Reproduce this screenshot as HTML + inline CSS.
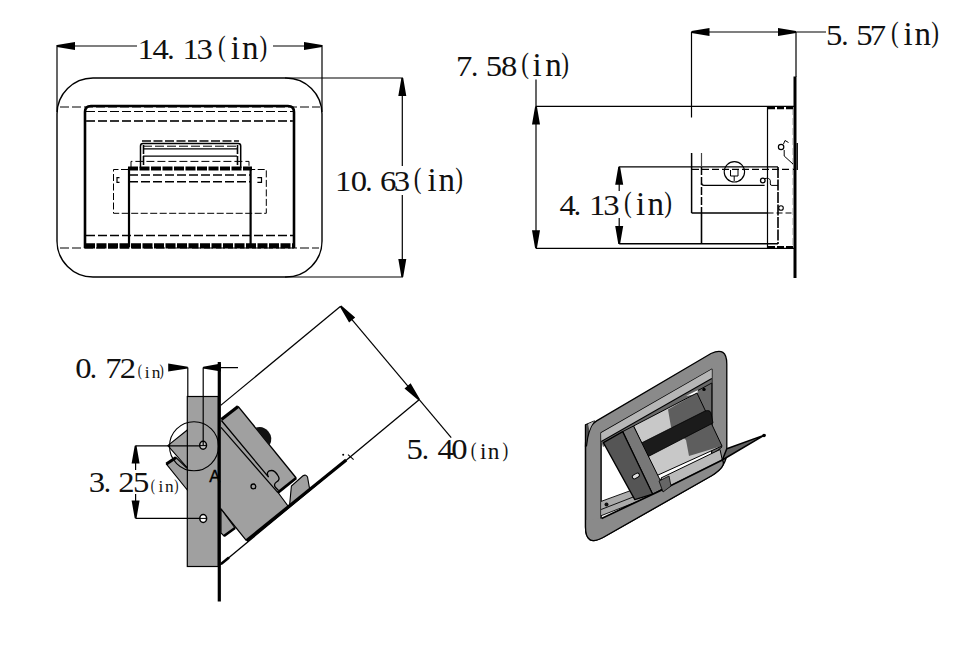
<!DOCTYPE html>
<html><head><meta charset="utf-8">
<style>
html,body{margin:0;padding:0;background:#fff;width:965px;height:669px;overflow:hidden}
svg{display:block;position:absolute;left:0;top:0}
text{font-family:"Liberation Serif",serif;fill:#111}
</style></head>
<body>
<svg width="965" height="669" viewBox="0 0 965 669">
<rect width="965" height="669" fill="#fff"/>

<!-- ============ TOP LEFT VIEW ============ -->
<g id="tl" fill="none" stroke="#000">
  <!-- dimension 14.13 -->
  <line x1="57" y1="46" x2="137" y2="46" stroke-width="1.2"/>
  <line x1="273" y1="46" x2="322" y2="46" stroke-width="1.2"/>
  <line x1="57" y1="45" x2="57" y2="112" stroke-width="1.2"/>
  <line x1="322" y1="45" x2="322" y2="112" stroke-width="1.2"/>
  <path d="M57.0,45.1 L75.0,42.0 L75.0,50.0 L57.0,46.9 Z M322.0,45.1 L304.0,42.0 L304.0,50.0 L322.0,46.9 Z" fill="#000" stroke="none"/>
  <!-- dimension 10.63 -->
  <line x1="285" y1="78" x2="403" y2="78" stroke-width="1.2"/>
  <line x1="285" y1="277" x2="403" y2="277" stroke-width="1.2"/>
  <line x1="402.3" y1="78" x2="402.3" y2="166" stroke-width="1.2"/>
  <line x1="402.3" y1="195" x2="402.3" y2="277" stroke-width="1.2"/>
  <path d="M401.4,78.0 L398.3,96.0 L406.3,96.0 L403.2,78.0 Z M401.4,277.0 L398.3,259.0 L406.3,259.0 L403.2,277.0 Z" fill="#000" stroke="none"/>
  <!-- outer rounded rect -->
  <rect x="57" y="78" width="265" height="199" rx="36" ry="36" stroke-width="1.4"/>
  <!-- dashed horizontal lines through frame -->
  <line x1="60" y1="107" x2="320" y2="107" stroke-width="1" stroke-dasharray="9,3"/>
  <line x1="60" y1="248" x2="319" y2="248" stroke-width="1" stroke-dasharray="9,3"/>
  <!-- inner rect -->
  <path d="M85,248 L85,112 Q85,106 91,106 L288,106 Q294,106 294,112 L294,248" stroke-width="2.6"/>
  <line x1="85" y1="245.9" x2="294" y2="245.9" stroke-width="5.4" stroke-dasharray="10,1.5"/>
  <line x1="86" y1="111.5" x2="293" y2="111.5" stroke-width="1.2" stroke-dasharray="9,3"/>
  <line x1="86" y1="121" x2="293" y2="121" stroke-width="1.8" stroke-dasharray="9,3" stroke="#333"/>
  <line x1="86" y1="235.5" x2="293" y2="235.5" stroke-width="1.4" stroke-dasharray="9,3"/>
  <!-- handle -->
  <line x1="142" y1="141" x2="239" y2="141" stroke-width="2" stroke-dasharray="9,2.5" stroke="#444"/>
  <path d="M140.5,168 L140.5,146 Q140.5,143.6 143,143.6 L238.2,143.6 Q240.7,143.6 240.7,146 L240.7,168" stroke-width="1.5"/>
  <line x1="143" y1="146.2" x2="238" y2="146.2" stroke-width="1" stroke-dasharray="9,3"/>
  <line x1="143" y1="148.8" x2="237" y2="148.8" stroke-width="1.2"/>
  <line x1="143" y1="156.2" x2="237" y2="156.2" stroke-width="1.2"/>
  <line x1="143.5" y1="145" x2="143.5" y2="168" stroke-width="1.6" stroke-dasharray="9,2"/>
  <line x1="237.5" y1="145" x2="237.5" y2="168" stroke-width="1.6" stroke-dasharray="9,2"/>
  <path d="M131,168 L131,161.4 L249,161.4 L249,168" stroke-width="1" stroke-dasharray="8,3"/>
  <!-- central box -->
  <line x1="128" y1="168.5" x2="252" y2="168.5" stroke-width="3.8" stroke-dasharray="10,1.5"/>
  <line x1="129" y1="168" x2="129" y2="247" stroke-width="2.2"/>
  <line x1="250.6" y1="168" x2="250.6" y2="247" stroke-width="2.2"/>
  <line x1="129" y1="175" x2="251" y2="175" stroke-width="1.5" stroke-dasharray="9,3"/>
  <line x1="129" y1="181.8" x2="251" y2="181.8" stroke-width="1.5" stroke-dasharray="9,3"/>
  <!-- side dashed boxes -->
  <path d="M128,169.5 L113.5,169.5 L113.5,213.3 L266.3,213.3 L266.3,169.5 L252,169.5" stroke-width="1" stroke-dasharray="7,2.5"/>
  <path d="M119.5,177.6 L117,177.6 L117,182.3 L119.5,182.3 M257.4,177.6 L261.5,177.6 L261.5,182.3 L257.4,182.3" stroke-width="1.2"/>
</g>

<!-- ============ TOP RIGHT VIEW ============ -->
<g id="tr" fill="none" stroke="#000">
  <!-- 5.57 -->
  <line x1="691.5" y1="32" x2="826" y2="32" stroke-width="1.2"/>
  <line x1="691.5" y1="32" x2="691.5" y2="117.5" stroke-width="1.2"/>
  <line x1="796" y1="32" x2="796" y2="77" stroke-width="1.2"/>
  <path d="M691.5,31.1 L709.5,28.0 L709.5,36.0 L691.5,32.9 Z M796.0,31.1 L778.0,28.0 L778.0,36.0 L796.0,32.9 Z" fill="#000" stroke="none"/>
  <!-- thick wall -->
  <line x1="795" y1="76.5" x2="795" y2="278" stroke-width="3"/>
  <rect x="796.5" y="143" width="1.4" height="27" fill="#000" stroke="none"/>
  <!-- 7.58 -->
  <line x1="536" y1="79.5" x2="536" y2="248.3" stroke-width="1.2"/>
  <line x1="536" y1="106.4" x2="795" y2="106.4" stroke-width="1.2"/>
  <line x1="536" y1="248.3" x2="795" y2="248.3" stroke-width="1.2"/>
  <path d="M535.1,106.4 L532.0,124.4 L540.0,124.4 L536.9,106.4 Z M535.1,248.3 L532.0,230.3 L540.0,230.3 L536.9,248.3 Z" fill="#000" stroke="none"/>
  <!-- 4.13 -->
  <line x1="619.2" y1="166.7" x2="619.2" y2="191" stroke-width="1.2"/>
  <line x1="619.2" y1="218" x2="619.2" y2="244" stroke-width="1.2"/>
  <line x1="619.2" y1="166.8" x2="778" y2="166.8" stroke-width="1.2"/>
  <line x1="619.2" y1="243.8" x2="778" y2="243.8" stroke-width="1.4"/>
  <path d="M618.3,166.7 L615.2,184.7 L623.2,184.7 L620.1,166.7 Z M618.3,244.0 L615.2,226.0 L623.2,226.0 L620.1,244.0 Z" fill="#000" stroke="none"/>
  <!-- housing -->
  <line x1="691.6" y1="153" x2="691.6" y2="213" stroke-width="1.5"/>
  <line x1="691.6" y1="213" x2="767.5" y2="213" stroke-width="1.4"/>
  <line x1="767.5" y1="213" x2="794" y2="213" stroke-width="1.2" stroke-dasharray="6,3"/>
  <line x1="701.5" y1="153" x2="701.5" y2="167" stroke-width="1.2" stroke="#444"/><line x1="701.5" y1="167" x2="701.5" y2="213" stroke-width="1.5" stroke-dasharray="8,2"/><line x1="701.5" y1="213" x2="701.5" y2="244" stroke-width="1.6"/>
  <line x1="778" y1="167" x2="778" y2="244" stroke-width="1.6" stroke-dasharray="11,1.5"/>
  <line x1="692" y1="169.4" x2="794" y2="169.4" stroke-width="1.1" stroke-dasharray="7,3"/>
  <line x1="767.5" y1="106.4" x2="767.5" y2="248.3" stroke-width="1.2"/>
  <line x1="792.5" y1="108" x2="792.5" y2="247" stroke-width="1" stroke="#d0d0d0" stroke-dasharray="7,3"/>
  <line x1="768" y1="108" x2="794" y2="108" stroke-width="2.5" stroke-dasharray="7,2"/>
  <line x1="768" y1="247" x2="794" y2="247" stroke-width="2" stroke-dasharray="7,2"/>
  <circle cx="734.4" cy="171.8" r="10.2" stroke-width="1.1"/>
  <path d="M730.5,170 L730.5,176 L738,176 L738,170 M734.2,176 L734.2,181" stroke-width="1"/>
  <path d="M701.5,183 Q701.5,185.4 704,185.4 L764.6,185.4" stroke-width="1.3"/>
  <circle cx="762.8" cy="180.5" r="2.3" stroke-width="1.3"/>
  <path d="M764.6,178.6 Q769.5,177.5 770.3,180.5 L770.3,184 Q770.3,185.4 772,185.4 L778,185.4" stroke-width="1"/>
  <circle cx="781.1" cy="147" r="2.7" stroke-width="1.2"/>
  <path d="M783.5,144 L785,140.5 L788.5,142.5 M784.2,150 L784.2,156 L793,164" stroke-width="1"/>
  <circle cx="781" cy="208" r="2.3" stroke-width="1.1"/>
</g>

<!-- ============ BOTTOM LEFT VIEW ============ -->
<g id="bl">
  <!-- plate -->
  <rect x="187.3" y="396.5" width="31" height="170" fill="#a0a0a0" stroke="#000" stroke-width="1.2"/>
  <!-- wedge pieces left of plate -->
  <path d="M167.8,445.6 L187.3,430 L187.3,467.8 Z" fill="#a0a0a0" stroke="#000" stroke-width="1.1"/>
  <path d="M166.4,464 L176,457.5 L187.3,468.5 L187.3,490 Z" fill="#a0a0a0" stroke="#000" stroke-width="1.1"/>
  <path d="M166.4,464 L176,457.5" stroke="#000" stroke-width="3" fill="none"/>
  <!-- body -->
  <path d="M221,419.5 L238.1,406.4 L296.2,478 L278,492.5 L288,506 L246.4,540.6 L221,509 Z" fill="#a0a0a0" stroke="none"/>
  <path d="M288,506 L278,492.5 M221,509 L246.4,540.6" fill="none" stroke="#000" stroke-width="1.2"/>
  <path d="M221,509 L235,528 L224,536 L221,533 Z" fill="#a0a0a0" stroke="#000" stroke-width="1.1"/>
  <path d="M235,528 L224,536" stroke="#000" stroke-width="2.5"/>
  <!-- upper box -->
  <path d="M238.1,406.4 L296.2,478" stroke="#000" stroke-width="1.4"/>
  <path d="M238.1,406.4 L221.4,419.5" stroke="#000" stroke-width="3.2"/>
  <path d="M296.2,478 L277.9,492.7" stroke="#000" stroke-width="2.8"/>
  <path d="M221.4,420.5 L268.6,477.2 C266,473 268,470.5 271.5,470.5 C274.5,470.5 276.5,473 278.2,476 C280,479 278.5,481 276.5,482 C274,483.5 274,486 275.8,487.8 L278.5,490.5" fill="none" stroke="#000" stroke-width="1.3"/>
  <path d="M221,427.3 L277.9,492.7" fill="none" stroke="#000" stroke-width="1.2"/>
  <path d="M255.3,427.8 A12,12 0 0 1 269.5,445.2 Z" fill="#111" stroke="none"/>
  <circle cx="253.4" cy="486.4" r="2.4" fill="#a0a0a0" stroke="#000" stroke-width="1.3"/>
  <!-- tab -->
  <path d="M289.6,505.1 L291.4,486 L303,475.8 Q306,474 307.5,477 L309.3,487.2 L310,490 Z" fill="#a0a0a0" stroke="#000" stroke-width="1.1"/>
  <!-- door line -->
  <line x1="220" y1="565" x2="419.1" y2="399.7" stroke="#000" stroke-width="1.3"/>
  <line x1="246.4" y1="540.8" x2="346.2" y2="459.9" stroke="#000" stroke-width="3.2"/>
  <line x1="221" y1="564" x2="229" y2="557.4" stroke="#000" stroke-width="2.6"/>
  <!-- thick wall -->
  <line x1="219.3" y1="362" x2="219.3" y2="601.5" stroke="#000" stroke-width="3.2"/>
  <!-- holes -->
  <ellipse cx="203.1" cy="445.3" rx="3.4" ry="4" fill="#c4c4c4" stroke="#000" stroke-width="1.5"/>
  <line x1="199.7" y1="445.6" x2="206.7" y2="445.6" stroke="#000" stroke-width="1"/>
  <ellipse cx="203.2" cy="518.5" rx="3.4" ry="4" fill="#fff" stroke="#000" stroke-width="1.5"/>
  <line x1="199.7" y1="518.4" x2="206.7" y2="518.4" stroke="#000" stroke-width="1"/>
  <!-- detail circle -->
  <circle cx="194" cy="446.3" r="24.5" fill="none" stroke="#000" stroke-width="1.1"/>
  <!-- dimension 0.72 -->
  <line x1="187.8" y1="367.6" x2="187.8" y2="396.5" stroke="#000" stroke-width="1.2"/>
  <line x1="203.2" y1="367.6" x2="203.2" y2="445.5" stroke="#000" stroke-width="1.2"/>
  <line x1="203.2" y1="367.6" x2="238" y2="367.6" stroke="#000" stroke-width="1.2"/>
  <path d="M187.8,366.7 L168.2,363.6 L168.2,371.6 L187.8,368.5 Z M203.2,366.7 L221.0,363.6 L221.0,371.6 L203.2,368.5 Z" fill="#000"/>
  <!-- dimension 3.25 -->
  <line x1="135.6" y1="445.8" x2="199.7" y2="445.8" stroke="#000" stroke-width="1.2"/>
  <line x1="135.6" y1="518.3" x2="199.7" y2="518.3" stroke="#000" stroke-width="1.2"/>
  <line x1="135.6" y1="445.8" x2="135.6" y2="470" stroke="#000" stroke-width="1.2"/>
  <line x1="135.6" y1="494" x2="135.6" y2="518.3" stroke="#000" stroke-width="1.2"/>
  <path d="M134.7,445.8 L131.6,463.6 L139.6,463.6 L136.5,445.8 Z M134.7,518.3 L131.6,500.5 L139.6,500.5 L136.5,518.3 Z" fill="#000"/>
  <!-- dimension 5.40 -->
  <line x1="220.7" y1="405.4" x2="340.6" y2="306.2" stroke="#000" stroke-width="1.2"/>
  <line x1="340.6" y1="306.2" x2="451.2" y2="437.7" stroke="#000" stroke-width="1.2"/>
  <path d="M339.9,306.8 L349.1,322.6 L355.2,317.4 L341.3,305.6 Z M419.8,399.1 L410.6,383.3 L404.5,388.5 L418.4,400.3 Z" fill="#000"/>
  <path d="M348,454.6 L353.6,459.7" stroke="#000" stroke-width="1.1"/>
  <circle cx="343.2" cy="454.7" r="1" fill="#000"/>
  <text x="209.2" y="481.7" style="font-family:'Liberation Sans',sans-serif;font-size:16.5px;fill:#000;stroke:#000;stroke-width:0.35">A</text>
</g>

<!-- ============ TEXT ============ -->
<g id="labels">
<text transform="translate(137.42 58.5) scale(1.12 1)" font-size="29.2">1</text>
<text transform="translate(152.55 58.5) scale(1.12 1)" font-size="29.2">4</text>
<text x="167.37" y="58.5" font-size="29.2">.</text>
<text transform="translate(182.52 58.5) scale(1.12 1)" font-size="29.2">1</text>
<text transform="translate(196.43 58.5) scale(1.12 1)" font-size="29.2">3</text>
<text transform="translate(217.88 55.5) scale(0.8 1)" font-size="29">(</text>
<text x="230.81" y="58.5" font-size="33">i</text>
<text x="241.94" y="58.5" font-size="33">n</text>
<text transform="translate(259.46 55.5) scale(0.8 1)" font-size="29">)</text>
<text transform="translate(335.02 190.5) scale(1.12 1)" font-size="29.2">1</text>
<text transform="translate(350.66 190.5) scale(1.12 1)" font-size="29.2">0</text>
<text x="365.37" y="190.5" font-size="29.2">.</text>
<text transform="translate(379.89 190.5) scale(1.12 1)" font-size="29.2">6</text>
<text transform="translate(393.73 190.5) scale(1.12 1)" font-size="29.2">3</text>
<text transform="translate(413.78 187.5) scale(0.8 1)" font-size="29">(</text>
<text x="427.41" y="190.5" font-size="33">i</text>
<text x="438.54" y="190.5" font-size="33">n</text>
<text transform="translate(455.36 187.5) scale(0.8 1)" font-size="29">)</text>
<text transform="translate(455.94 75.7) scale(1.12 1)" font-size="29.2">7</text>
<text x="471.07" y="75.7" font-size="29.2">.</text>
<text transform="translate(485.7 75.7) scale(1.12 1)" font-size="29.2">5</text>
<text transform="translate(501.06 75.7) scale(1.12 1)" font-size="29.2">8</text>
<text transform="translate(521.18 72.7) scale(0.8 1)" font-size="29">(</text>
<text x="532.61" y="75.7" font-size="33">i</text>
<text x="545.34" y="75.7" font-size="33">n</text>
<text transform="translate(561.26 72.7) scale(0.8 1)" font-size="29">)</text>
<text transform="translate(826.1 45.3) scale(1.12 1)" font-size="29.2">5</text>
<text x="841.37" y="45.3" font-size="29.2">.</text>
<text transform="translate(856.3 45.3) scale(1.12 1)" font-size="29.2">5</text>
<text transform="translate(869.64 45.3) scale(1.12 1)" font-size="29.2">7</text>
<text transform="translate(890.88 42.3) scale(0.8 1)" font-size="29">(</text>
<text x="903.51" y="45.3" font-size="33">i</text>
<text x="914.44" y="45.3" font-size="33">n</text>
<text transform="translate(931.26 42.3) scale(0.8 1)" font-size="29">)</text>
<text transform="translate(559.55 214.9) scale(1.12 1)" font-size="29.2">4</text>
<text x="573.77" y="214.9" font-size="29.2">.</text>
<text transform="translate(589.02 214.9) scale(1.12 1)" font-size="29.2">1</text>
<text transform="translate(603.33 214.9) scale(1.12 1)" font-size="29.2">3</text>
<text transform="translate(623.98 211.9) scale(0.8 1)" font-size="29">(</text>
<text x="635.91" y="214.9" font-size="33">i</text>
<text x="647.54" y="214.9" font-size="33">n</text>
<text transform="translate(664.36 211.9) scale(0.8 1)" font-size="29">)</text>
<text transform="translate(75.26 377.7) scale(1.12 1)" font-size="29.2">0</text>
<text x="89.87" y="377.7" font-size="29.2">.</text>
<text transform="translate(105.34 377.7) scale(1.12 1)" font-size="29.2">7</text>
<text transform="translate(119.66 377.7) scale(1.12 1)" font-size="29.2">2</text>
<text transform="translate(137.64 376.3) scale(0.8 1)" font-size="16">(</text>
<text x="144.74" y="377.5" font-size="17.28">i</text>
<text x="151.7" y="377.5" font-size="17.28">n</text>
<text transform="translate(159.59 376.3) scale(0.8 1)" font-size="16">)</text>
<text transform="translate(88.73 491.7) scale(1.12 1)" font-size="29.2">3</text>
<text x="103.67" y="491.7" font-size="29.2">.</text>
<text transform="translate(118.26 491.7) scale(1.12 1)" font-size="29.2">2</text>
<text transform="translate(133.1 491.7) scale(1.12 1)" font-size="29.2">5</text>
<text transform="translate(150.74 490.5) scale(0.8 1)" font-size="16">(</text>
<text x="158.54" y="491.7" font-size="17.28">i</text>
<text x="165.0" y="491.7" font-size="17.28">n</text>
<text transform="translate(174.29 490.5) scale(0.8 1)" font-size="16">)</text>
<text transform="translate(406.4 458.6) scale(1.12 1)" font-size="29.2">5</text>
<text x="421.87" y="458.6" font-size="29.2">.</text>
<text transform="translate(437.45 458.6) scale(1.12 1)" font-size="29.2">4</text>
<text transform="translate(451.16 458.6) scale(1.12 1)" font-size="29.2">0</text>
<text transform="translate(470.74 456.6) scale(0.8 1)" font-size="21.5">(</text>
<text x="479.91" y="458.6" font-size="23.22">i</text>
<text x="487.67" y="458.6" font-size="23.22">n</text>
<text transform="translate(502.55 456.6) scale(0.8 1)" font-size="21.5">)</text>
</g>

<!-- ============ BOTTOM RIGHT 3D VIEW ============ -->
<g id="br" stroke-linejoin="round">
  <!-- frame -->
  <path d="M585.5,446 Q585.5,428 597,420.6 L711,353.5 Q726.8,346 726.8,364 L726.8,449 Q728,466 712,475.5 L603,537.5 Q585.5,547 585.5,527 Z" fill="#8a8a8a" stroke="#000" stroke-width="1.3"/>
  <path d="M585.4,424.7 L594.4,421 Q588,430 586.5,446 L585.4,446 Z" fill="#4a4a4a" stroke="#000" stroke-width="1.2"/>
  <path d="M588,424 L594.4,421 Q590,427 589.5,431 Z" fill="#bbb"/>
  <!-- opening -->
  <path d="M601.1,432.9 L711.8,369.3 L711.8,457 L601.1,521 Z" fill="#fff" stroke="#000" stroke-width="1.4"/>
  <!-- top rail -->
  <path d="M601.1,432.9 L711.8,369.3 L711.8,378.5 L601.3,441.6 Z" fill="#b6b6b6" stroke="none"/>
  <path d="M601.3,441.6 L711.8,378.5 L711.8,388 L603,447 Z" fill="#686868" stroke="none"/>
  <line x1="601.3" y1="441.6" x2="711.8" y2="378.5" stroke="#000" stroke-width="1.1"/>
  <!-- right wall -->
  <path d="M695.7,391.7 L711.8,383 L711.8,455 L722,447 Z" fill="#686868" stroke="#000" stroke-width="0.9"/>
  <path d="M686,396 L698,390 L697,394 Z" fill="#fff"/>
  <circle cx="704" cy="389.4" r="1.7" fill="#000"/>
  <!-- box faces -->
  <path d="M633.5,426 L697,393 L722,446 L657,475.5 Z" fill="#c8c8c8" stroke="none"/>
  <path d="M668,409.5 L697,393 L722,446 L689,456 L686,440 L671,427 Z" fill="#5e5e5e" stroke="none"/>
  <path d="M633.5,426 L697,393 L722,446 L657,475.5 Z" fill="none" stroke="#000" stroke-width="1"/>
  <!-- roller -->
  <path d="M639.8,443.8 L705,411 Q710,409.5 711,413 L713,423 L646.6,457.4 Z" fill="#1b1b1b" stroke="#000" stroke-width="0.8"/>
  <!-- bottom rail -->
  <path d="M601.1,501.4 L665,478 L667,490 L601.1,515.7 Z" fill="#ababab" stroke="none"/>
  <path d="M601.1,501.4 L665,478 M601.1,509.5 L664,485 M601.1,515.7 L667,490" fill="none" stroke="#000" stroke-width="0.9"/>
  <circle cx="606.5" cy="504.5" r="2" fill="#111"/>
  <!-- left strip + panel -->
  <path d="M622.7,431.6 L633.5,426 L664,488 L652.7,494.2 Z" fill="#787878" stroke="#000" stroke-width="1"/>
  <path d="M603.4,442.6 L622.7,431.6 L652.7,494.2 L634.8,499.6 Z" fill="#555" stroke="#000" stroke-width="1.3"/>
  <rect x="632" y="474" width="7.5" height="4" rx="2" fill="#ddd" stroke="#000" stroke-width="0.9" transform="rotate(-30 635.7 475.8)"/>
  <!-- door -->
  <path d="M661,478 L720,449.5 L722.3,460 L666,488 Z" fill="#bababa" stroke="#000" stroke-width="1"/>
  <path d="M601.6,518.4 L666,488 L722.3,460 Q727,465 712,475.5 L603,537.5 Q585.5,547 585.5,527 L586,520 Z" fill="#8a8a8a" stroke="none"/>
  <path d="M601.6,518.4 L666,488 L722.3,460" fill="none" stroke="#000" stroke-width="1.7"/>
  <path d="M722.3,460 Q727,466 712,475.5 L603,537.5" fill="none" stroke="#000" stroke-width="1.3"/>
  <path d="M659,481 L669,476 L671,486 L663,492 Z" fill="#666" stroke="#000" stroke-width="0.8"/>
  <path d="M726.8,448.8 L764.9,434.9 L722.3,460 Z" fill="#606060" stroke="#000" stroke-width="1.5"/>
  <circle cx="764" cy="435.5" r="1.8" fill="#000"/>
  <path d="M585.5,446 L585.5,527 Q585.5,547 603,537.5" fill="none" stroke="#000" stroke-width="1.3"/>
</g>
</svg>
</body></html>
